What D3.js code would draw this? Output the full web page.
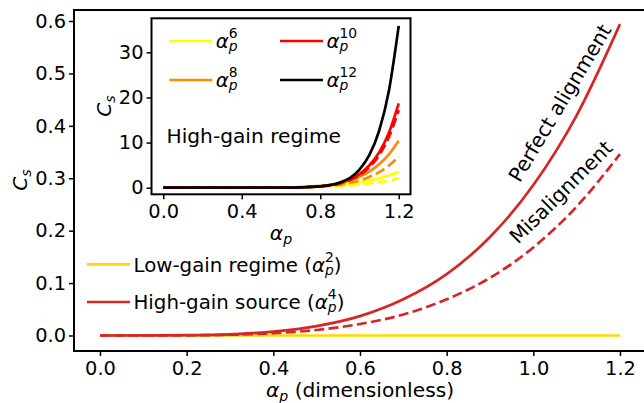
<!DOCTYPE html>
<html>
<head>
<meta charset="utf-8">
<script src="https://cdn.jsdelivr.net/npm/d3@7"></script>
<style>
  body { margin: 0; background: #fff; }
  text { font-family: "DejaVu Sans", sans-serif; fill: #000; }
</style>
</head>
<body>
<div id="chart-area"></div>
<script>
// ---- data ----
var alphaMain = [0, 0.1, 0.2, 0.3, 0.4, 0.5, 0.6, 0.7, 0.8, 0.9, 1.0, 1.1, 1.2];
var lowGain   = [0, 0, 0, 0, 0, 0, 0, 0, 0, 0, 0, 0, 0];
var highGain  = [0, 0.00003, 0.0005, 0.0023, 0.0073, 0.018, 0.037, 0.069, 0.117, 0.188, 0.287, 0.42, 0.594];
var misalign  = [0, 0.00002, 0.0003, 0.0014, 0.0043, 0.0105, 0.022, 0.040, 0.069, 0.110, 0.168, 0.246, 0.346];

var alphaInset = [0, 0.1, 0.2, 0.3, 0.4, 0.5, 0.6, 0.7, 0.8, 0.9, 1.0, 1.05, 1.1, 1.15, 1.2];
var p6   = [0, 0, 0, 0.001, 0.005, 0.019, 0.056, 0.14, 0.31, 0.63, 1.19, 1.59, 2.11, 2.76, 3.55];
var p6d  = [0, 0, 0, 0.001, 0.003, 0.011, 0.033, 0.083, 0.184, 0.374, 0.70, 0.94, 1.25, 1.63, 2.1];
var p8   = [0, 0, 0, 0.0002, 0.0016, 0.0095, 0.041, 0.139, 0.406, 1.04, 2.42, 3.58, 5.19, 7.40, 10.4];
var p8d  = [0, 0, 0, 0.0001, 0.001, 0.006, 0.027, 0.092, 0.269, 0.691, 1.605, 2.37, 3.44, 4.91, 6.9];
var p10  = [0, 0, 0, 0, 0.0003, 0.003, 0.018, 0.085, 0.324, 1.05, 3.02, 4.92, 7.83, 12.2, 18.7];
var p10d = [0, 0, 0, 0, 0.0003, 0.003, 0.017, 0.078, 0.30, 0.97, 2.78, 4.53, 7.21, 11.25, 17.2];
var p12  = [0, 0, 0, 0, 0, 0.001, 0.0087, 0.056, 0.276, 1.135, 4.02, 7.22, 12.6, 21.5, 35.85];

var mainTicksX = [0, 0.2, 0.4, 0.6, 0.8, 1.0, 1.2];
var mainTicksY = [0, 0.1, 0.2, 0.3, 0.4, 0.5, 0.6];
var insetTicksX = [0, 0.4, 0.8, 1.2];
var insetTicksY = [0, 10, 20, 30];

var W = 644, H = 403;
var tickFs = 19.4, labelFs = 20.2, legendFs = 19.8;

var svg = d3.select("#chart-area").append("svg")
  .attr("width", W)
  .attr("height", H);

// α with subscript p and optional stacked superscript, returns dy to get back to baseline
function alphaP(txt, sup, fs) {
  txt.append("tspan").attr("font-style", "italic").text("α");
  var subDy = sup ? fs * 0.16 : fs * 0.2;
  txt.append("tspan").attr("font-style", "italic")
    .attr("font-size", fs * 0.7).attr("dy", subDy).text("p");
  if (sup) {
    txt.append("tspan").attr("font-size", fs * 0.7)
      .attr("dx", -fs * 0.7 * 0.635).attr("dy", -subDy - fs * 0.49).text(sup);
    return fs * 0.49;
  }
  return -subDy;
}

function cSub(txt, fs) {
  txt.append("tspan").attr("font-style", "italic").text("C");
  txt.append("tspan").attr("font-style", "italic")
    .attr("font-size", fs * 0.7).attr("dy", fs * 0.2).text("s");
}

function line(x, y, xs) {
  return d3.line()
    .x(function(d, i) { return x(xs[i]); })
    .y(function(d) { return y(d); })
    .curve(d3.curveMonotoneX);
}

function styleAxis(a) {
  a.select(".domain").remove();
  a.selectAll("line").attr("stroke", "#000").attr("stroke-width", 1.5);
  a.selectAll("text").attr("font-size", tickFs).attr("font-family", "DejaVu Sans").attr("fill", "#000");
}

/******************** main axes ********************/
var x = d3.scaleLinear().domain([-0.06, 1.26]).range([74, 646]);
var y = d3.scaleLinear().domain([-0.0296, 0.621]).range([351, 10]);

var g = svg.append("g");

var mainLine = line(x, y, alphaMain);
g.append("path").attr("d", mainLine(lowGain))
  .attr("fill", "none").attr("stroke", "#ffd700").attr("stroke-width", 2.7);
g.append("path").attr("d", mainLine(highGain))
  .attr("fill", "none").attr("stroke", "#d62728").attr("stroke-width", 2.7);
g.append("path").attr("d", mainLine(misalign))
  .attr("fill", "none").attr("stroke", "#d62728").attr("stroke-width", 2.7)
  .attr("stroke-dasharray", "10,4.3");

var xAxisCall = d3.axisBottom(x).tickValues(mainTicksX)
  .tickFormat(d3.format(".1f")).tickSize(5).tickPadding(5).tickSizeOuter(0);
var yAxisCall = d3.axisLeft(y).tickValues(mainTicksY)
  .tickFormat(d3.format(".1f")).tickSize(5).tickPadding(3).tickSizeOuter(0);

var xAxis = g.append("g").attr("transform", "translate(0,351)").call(xAxisCall);
var yAxis = g.append("g").attr("transform", "translate(74,0)").call(yAxisCall);
styleAxis(xAxis);
styleAxis(yAxis);

g.append("rect").attr("x", 74).attr("y", 10).attr("width", 572).attr("height", 341)
  .attr("fill", "none").attr("stroke", "#000").attr("stroke-width", 2);

// axis labels
var xLab = g.append("text").attr("x", 360).attr("y", 397)
  .attr("text-anchor", "middle").attr("font-size", labelFs);
var r = alphaP(xLab, null, labelFs);
xLab.append("tspan").attr("dy", r).text(" (dimensionless)");

var yLab = g.append("text")
  .attr("transform", "translate(27,180) rotate(-90)")
  .attr("text-anchor", "middle").attr("font-size", labelFs);
cSub(yLab, labelFs);

// legend
var legendItems = [
  { color: "#ffd700", label: "Low-gain regime (", sup: "2", ly: 264.3 },
  { color: "#d62728", label: "High-gain source (", sup: "4", ly: 302 }
];
legendItems.forEach(function(d) {
  g.append("line").attr("x1", 87).attr("x2", 130).attr("y1", d.ly).attr("y2", d.ly)
    .attr("stroke", d.color).attr("stroke-width", 2.7);
  var t = g.append("text").attr("x", 133.5).attr("y", d.ly + 7.2).attr("font-size", legendFs);
  t.append("tspan").text(d.label);
  var rr = alphaP(t, d.sup, legendFs);
  t.append("tspan").attr("dy", rr).text(")");
});

// curve annotations
g.append("text").attr("transform", "translate(560,103) rotate(-59)")
  .attr("text-anchor", "middle").attr("dominant-baseline", "central")
  .attr("font-size", labelFs).text("Perfect alignment");
g.append("text").attr("transform", "translate(561,192) rotate(-45)")
  .attr("text-anchor", "middle").attr("dominant-baseline", "central")
  .attr("font-size", labelFs).text("Misalignment");

/******************** inset ********************/
var xi = d3.scaleLinear().domain([-0.06, 1.26]).range([151.5, 410.5]);
var yi = d3.scaleLinear().domain([-1.46, 37.54]).range([194.3, 18.3]);

var gi = svg.append("g");
gi.append("rect").attr("x", 151.5).attr("y", 18.3).attr("width", 259).attr("height", 176)
  .attr("fill", "#fff");

var insetLine = line(xi, yi, alphaInset);
var insetSeries = [
  { v: p6,   c: "#ffff00", dash: false },
  { v: p6d,  c: "#ffff00", dash: true },
  { v: p8,   c: "#ff8c00", dash: false },
  { v: p8d,  c: "#ff8c00", dash: true },
  { v: p10,  c: "#ff0000", dash: false },
  { v: p10d, c: "#ff0000", dash: true },
  { v: p12,  c: "#000000", dash: false }
];
insetSeries.forEach(function(s) {
  gi.append("path").attr("d", insetLine(s.v))
    .attr("fill", "none").attr("stroke", s.c).attr("stroke-width", 2.7)
    .attr("stroke-dasharray", s.dash ? "10,4.3" : null);
});

var xiAxis = gi.append("g").attr("transform", "translate(0,194.3)")
  .call(d3.axisBottom(xi).tickValues(insetTicksX).tickFormat(d3.format(".1f"))
    .tickSize(5).tickPadding(5).tickSizeOuter(0));
var yiAxis = gi.append("g").attr("transform", "translate(151.5,0)")
  .call(d3.axisLeft(yi).tickValues(insetTicksY).tickFormat(d3.format("d"))
    .tickSize(5).tickPadding(3).tickSizeOuter(0));
styleAxis(xiAxis);
styleAxis(yiAxis);

gi.append("rect").attr("x", 151.5).attr("y", 18.3).attr("width", 259).attr("height", 176)
  .attr("fill", "none").attr("stroke", "#000").attr("stroke-width", 2);

var xiLab = gi.append("text").attr("x", 281).attr("y", 240)
  .attr("text-anchor", "middle").attr("font-size", labelFs);
alphaP(xiLab, null, labelFs);

var yiLab = gi.append("text")
  .attr("transform", "translate(111,106) rotate(-90)")
  .attr("text-anchor", "middle").attr("font-size", labelFs);
cSub(yiLab, labelFs);

gi.append("text").attr("x", 166.5).attr("y", 142.7).attr("font-size", labelFs)
  .text("High-gain regime");

var insetLegend = [
  { c: "#ffff00", sup: "6",  x: 169.3, ly: 41 },
  { c: "#ff8c00", sup: "8",  x: 169.3, ly: 80 },
  { c: "#ff0000", sup: "10", x: 280,   ly: 41 },
  { c: "#000000", sup: "12", x: 280,   ly: 80 }
];
insetLegend.forEach(function(d) {
  gi.append("line").attr("x1", d.x).attr("x2", d.x + 43).attr("y1", d.ly).attr("y2", d.ly)
    .attr("stroke", d.c).attr("stroke-width", 2.7);
  var t = gi.append("text").attr("x", d.x + 46.5).attr("y", d.ly + 7).attr("font-size", legendFs);
  alphaP(t, d.sup, legendFs);
});
</script>
</body>
</html>
